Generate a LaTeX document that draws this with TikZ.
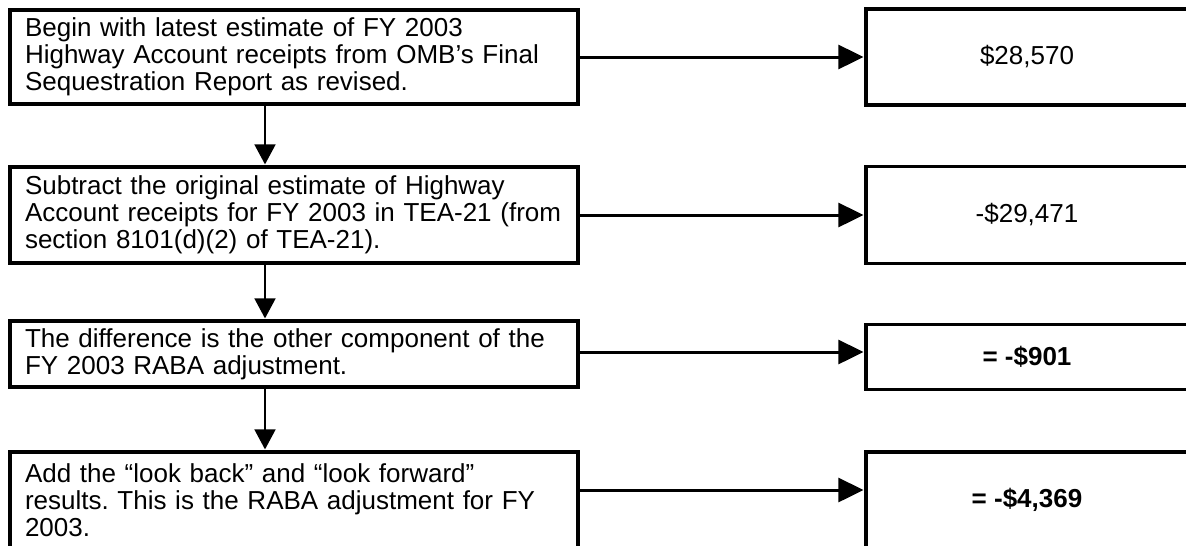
\documentclass[tikz,border=0pt]{standalone}
\usepackage{fontspec}
\setmainfont{Liberation Sans}
\usetikzlibrary{arrows.meta}
\frenchspacing
\tikzset{
  lbox/.style={draw, line width=3.2pt, rectangle, text width=538pt, inner xsep=15pt, inner ysep=0pt,
    align=left, font=\fontsize{26}{27}\selectfont},
  rbox/.style={draw, line width=3.2pt, rectangle, minimum width=322pt, inner sep=0pt,
    font=\fontsize{26}{27}\selectfont},
  harrow/.style={line width=3pt, -{Triangle[length=25pt,width=24pt]}, shorten >=1pt},
  varrow/.style={line width=1.7pt, -{Triangle[length=20pt,width=21pt]}, shorten >=1pt}
}
\begin{document}
\begin{tikzpicture}[x=1pt,y=-1pt]
\clip (0,0) rectangle (1186,546);
\fill[white] (0,0) rectangle (1186,546);
\node[lbox, minimum height=94pt] (l1) at (294,57) {Begin with latest estimate of FY 2003\\Highway Account receipts from OMB’s Final\\Sequestration Report as revised.};
\node[lbox, minimum height=96pt] (l2) at (294,215) {Subtract the original estimate of Highway\\Account receipts for FY 2003 in TEA-21 (from\\section 8101(d)(2) of TEA-21).};
\node[lbox, minimum height=66pt] (l3) at (294,354) {The difference is the other component of the\\FY 2003 RABA adjustment.};
\node[lbox, minimum height=96pt] (l4) at (294,500) {Add the “look back” and “look forward”\\results. This is the RABA adjustment for FY\\2003.};
\node[rbox, minimum height=96pt] (r1) at (1027,57) {\$28,570};
\node[rbox, minimum height=97pt] (r2) at (1027,215) {-\$29,471};
\node[rbox, minimum height=65pt] (r3) at (1027,357) {\textbf{= -\$901}};
\node[rbox, minimum height=96pt] (r4) at (1027,500) {\textbf{= -\$4,369}};
\coordinate (ax) at (265,0);
\draw[harrow] (l1.east) -- (l1.east -| r1.west);
\draw[harrow] (l2.east) -- (l2.east -| r2.west);
\draw[harrow] ([yshift=2pt]l3.east) -- ([yshift=2pt]l3.east -| r3.west);
\draw[harrow] ([yshift=10pt]l4.east) -- ([yshift=10pt]l4.east -| r4.west);
\draw[varrow] (l1.south -| ax) -- (l2.north -| ax);
\draw[varrow] (l2.south -| ax) -- (l3.north -| ax);
\draw[varrow] (l3.south -| ax) -- (l4.north -| ax);
\end{tikzpicture}
\end{document}
